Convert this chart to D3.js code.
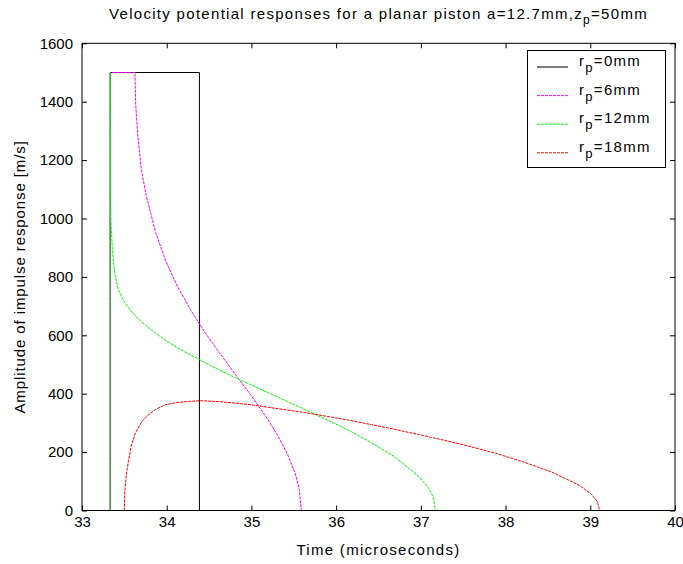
<!DOCTYPE html>
<html><head><meta charset="utf-8">
<script src="https://cdn.jsdelivr.net/npm/d3@7/dist/d3.min.js"></script>
<style>
body{margin:0;background:#fff;}
text{font-family:"Liberation Sans",Arial,Helvetica,sans-serif;fill:#000;}
</style>
</head><body>
<svg id="chart" width="683" height="564"></svg>
<script>
// ---- data ----
const xTicks = [33, 34, 35, 36, 37, 38, 39, 40];
const yTicks = [0, 200, 400, 600, 800, 1000, 1200, 1400, 1600];

// r_p = 0 mm
const timeR0 = [33.333, 33.333, 34.386, 34.386];
const ampR0  = [0, 1500, 1500, 0];

// r_p = 6 mm
const timeR6 = [33.333, 33.333, 33.625, 33.634, 33.655, 33.700, 33.757, 33.869, 33.993, 34.130, 34.280, 34.441,
                34.615, 34.801, 34.999, 35.207, 35.316, 35.427, 35.519, 35.565, 35.589];
const ampR6  = [0, 1500, 1500, 1390, 1296, 1168, 1080, 952, 851, 766, 688, 614,
                543, 470, 393, 306, 254, 192, 125, 72, 0];

// r_p = 12 mm
const timeR12 = [33.333, 33.333, 33.335, 33.337, 33.340, 33.348, 33.360, 33.390, 33.430, 33.490, 33.565, 33.655,
                 33.757, 33.869, 33.993, 34.130, 34.280, 34.441, 34.615, 34.801, 34.999, 35.207, 35.427, 35.659,
                 35.901, 36.154, 36.418, 36.691, 36.975, 37.091, 37.149, 37.172];
const ampR12  = [0, 1500, 1250, 1106, 1000, 956, 884, 805, 756, 719, 688, 659,
                 633, 607, 582, 557, 533, 508, 482, 456, 430, 402, 373, 342,
                 309, 274, 232, 184, 117, 77, 44, 0];

// r_p = 18 mm
const timeR18 = [33.500, 33.505, 33.522, 33.547, 33.580, 33.630, 33.705, 33.780, 33.870, 33.980, 34.130, 34.280,
                 34.400, 34.615, 34.801, 34.999, 35.207, 35.427, 35.659, 35.901, 36.154, 36.418, 36.691, 36.975,
                 37.268, 37.571, 37.883, 38.204, 38.534, 38.873, 39.011, 39.081, 39.110];
const ampR18  = [0, 64, 120, 167, 220, 265, 304, 327, 346, 362, 370, 374,
                 376, 373, 368, 362, 353, 344, 334, 322, 309, 294, 278, 260,
                 241, 220, 196, 167, 133, 86, 56, 32, 0];

const legendRadii = ["0mm", "6mm", "12mm", "18mm"];
const seriesColors = ["#000000", "#ff00ff", "#00ff00", "#ff0000"];
const seriesDash = [null, "3,1", "3,1", "3,1"];

// ---- chart ----
const svg = d3.select("#chart");
const L = 82, R = 675, T = 43.3, B = 510.5;
const x = d3.scaleLinear().domain([33, 40]).range([L, R]);
const y = d3.scaleLinear().domain([0, 1600]).range([B, T]);

const series = [
  d3.zip(timeR0, ampR0),
  d3.zip(timeR6, ampR6),
  d3.zip(timeR12, ampR12),
  d3.zip(timeR18, ampR18)
];

const fs = 15, ls = 1.3;
// axes (ticks inward on all four sides)
const gB = svg.append("g").attr("transform", `translate(0,${B})`)
  .call(d3.axisBottom(x).tickValues(xTicks).tickSize(-5).tickPadding(6).tickFormat(d3.format("d")));
const gT = svg.append("g").attr("transform", `translate(0,${T})`)
  .call(d3.axisTop(x).tickValues(xTicks).tickSize(-5).tickFormat(""));
const gL = svg.append("g").attr("transform", `translate(${L},0)`)
  .call(d3.axisLeft(y).tickValues(yTicks).tickSize(-5).tickPadding(9).tickFormat(d3.format("d")));
const gRr = svg.append("g").attr("transform", `translate(${R},0)`)
  .call(d3.axisRight(y).tickValues(yTicks).tickSize(-5).tickFormat(""));
[gB, gT, gL, gRr].forEach(g => {
  g.select(".domain").remove();
  g.selectAll("line").attr("stroke", "#000");
  g.selectAll("text").attr("font-size", fs).attr("font-family", null);
});

// lines
const line = d3.line().x(d => x(d[0])).y(d => y(d[1]));
series.forEach((s, i) => {
  svg.append("path").datum(s)
    .attr("d", line)
    .attr("fill", "none")
    .attr("stroke", seriesColors[i])
    .attr("stroke-width", 1)
    .attr("stroke-dasharray", seriesDash[i]);
});

// box
svg.append("rect").attr("x", L).attr("y", T).attr("width", R - L).attr("height", B - T)
  .attr("fill", "none").attr("stroke", "#000").attr("stroke-width", 1);

// title
const title = svg.append("text").attr("x", (L + R) / 2).attr("y", 19)
  .attr("text-anchor", "middle").attr("font-size", fs).attr("letter-spacing", ls);
title.append("tspan").text("Velocity potential responses for a planar piston a=12.7mm,z");
title.append("tspan").attr("dy", 5).attr("font-size", 12).text("p");
title.append("tspan").attr("dy", -5).text("=50mm");

// axis labels
svg.append("text").attr("x", (L + R) / 2).attr("y", 555).attr("text-anchor", "middle")
  .attr("font-size", fs).attr("letter-spacing", ls).text("Time (microseconds)");
svg.append("text").attr("transform", `translate(25,${(T + B) / 2}) rotate(-90)`)
  .attr("text-anchor", "middle").attr("font-size", fs).attr("letter-spacing", 0.9)
  .text("Amplitude of impulse response [m/s]");

// legend
const lg = svg.append("g");
lg.append("rect").attr("x", 527.5).attr("y", 50.5).attr("width", 138).attr("height", 117)
  .attr("fill", "#fff").attr("stroke", "#000").attr("stroke-width", 1);
legendRadii.forEach((lab, i) => {
  const yy = 67 + i * 28.6;
  lg.append("line").attr("x1", 537).attr("x2", 568).attr("y1", yy).attr("y2", yy)
    .attr("stroke", seriesColors[i]).attr("stroke-width", 1)
    .attr("stroke-dasharray", seriesDash[i]);
  const t = lg.append("text").attr("x", 579).attr("y", yy - 1).attr("font-size", fs).attr("letter-spacing", ls);
  t.append("tspan").text("r");
  t.append("tspan").attr("dy", 6).attr("font-size", 13).text("p");
  t.append("tspan").attr("dy", -6).text("=" + lab);
});
</script>
</body></html>
